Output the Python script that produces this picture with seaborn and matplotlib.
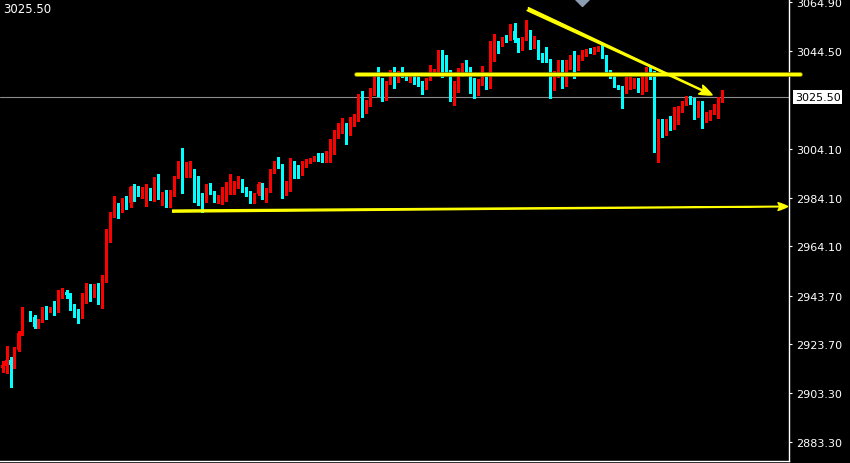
import numpy as np
import pandas as pd
import seaborn as sns
import matplotlib.pyplot as plt

nan = np.nan

# --- OHLC bars (one per bar, left to right) ---
opens = [
    2913.8, 2914.6, 2917.1, 2915.0, 2921.2, 2928.2, nan, 2936.1, 2934.8, 2930.7,
    2933.2, 2938.1, 2937.3, 2938.5, 2937.3, 2943.5, 2945.2, 2944.3, 2939.8, 2936.9,
    2934.8, 2941.0, 2947.6, 2943.5, 2946.0, 2941.9, 2949.7, 2969.5, 2977.3, 2979.8,
    2978.5, 2982.7, 2981.9, 2988.4, 2986.8, 2985.6, 2986.0, 2987.6, 2983.1, 2992.6,
    2984.7, 2986.0, 2984.7, 2986.4, 2992.6, 2998.3, 2992.6, 2992.6, 2993.4, 2985.1,
    2985.1, 2983.9, 2989.3, 2986.4, 2982.7, 2983.1, 2983.1, 2988.4, 2989.3, 2990.1,
    2990.5, 2987.6, 2986.4, 2981.9, 2985.6, 2989.3, 2984.7, 2987.6, 2995.5, 2998.7,
    2997.1, 2986.4, 2987.2, 2998.3, 2996.7, 2993.8, 2997.1, 2998.7, 2999.6, 3001.2,
    3000.0, 2999.2, 3001.2, 3005.3, 3010.3, 3010.7, 3014.0, 3011.1, 3014.8, 3015.7,
    3026.4, 3019.4, 3023.5, 3026.4, 3033.8, 3033.0, 3027.2, 3031.3, 3035.9, 3031.7,
    3035.0, 3034.6, 3033.4, 3034.2, 3031.7, 3031.3, 3028.9, 3033.0, 3035.4, 3035.4,
    3044.1, 3042.0, 3035.4, 3024.3, 3030.1, 3034.2, 3038.7, 3036.7, 3033.0, 3026.8,
    3030.9, 3033.0, 3029.7, 3046.6, 3047.8, 3047.0, 3049.9, 3049.5, 3052.8, 3049.5,
    3044.9, 3049.5, 3051.9, 3046.2, 3048.6, 3042.0, 3041.6, 3041.2, 3033.4, 3034.2,
    3040.4, 3032.2, 3039.6, 3040.4, 3037.5, 3041.2, 3042.9, 3044.9, 3044.1, 3044.9,
    3046.2, 3042.4, 3035.4, 3034.2, 3030.1, 3029.7, 3027.6, 3029.3, 3031.3, 3032.6,
    3028.9, 3030.1, 3034.2, 3033.8, 3005.8, 3015.2, 3010.3, 3014.8, 3012.8, 3016.9,
    3019.4, 3022.7, 3025.1, 3024.3, 3017.7, 3020.6, 3016.1, 3016.5, 3019.0, 3021.4,
    3023.9,
]
highs = [
    2916.7, 2922.9, 2918.4, 2922.4, 2929.1, 2939.0, nan, 2937.3, 2935.7, 2934.0,
    2939.0, 2939.4, 2939.0, 2941.5, 2946.0, 2946.8, 2946.0, 2944.7, 2940.2, 2938.1,
    2944.7, 2948.9, 2948.5, 2948.5, 2948.9, 2952.1, 2971.1, 2978.1, 2984.7, 2981.9,
    2983.9, 2984.7, 2988.9, 2989.7, 2988.9, 2988.4, 2989.7, 2988.0, 2992.6, 2993.8,
    2986.4, 2987.2, 2987.2, 2993.0, 2999.2, 3004.5, 2998.7, 2999.2, 2995.9, 2993.0,
    2986.0, 2989.7, 2990.1, 2986.8, 2985.1, 2988.4, 2990.5, 2993.8, 2990.9, 2993.0,
    2991.7, 2988.4, 2986.8, 2986.0, 2990.5, 2990.1, 2988.0, 2995.9, 2999.2, 3000.8,
    2997.9, 2990.9, 3000.4, 2999.2, 2997.5, 2999.2, 3000.0, 3000.4, 3001.2, 3002.5,
    3002.5, 3003.3, 3008.2, 3011.9, 3014.8, 3016.9, 3014.8, 3017.3, 3018.6, 3026.8,
    3028.0, 3024.3, 3029.3, 3034.2, 3037.9, 3033.4, 3032.2, 3036.7, 3037.9, 3036.3,
    3037.9, 3035.4, 3035.0, 3034.6, 3033.8, 3032.2, 3033.4, 3038.7, 3037.1, 3044.9,
    3044.9, 3042.9, 3036.7, 3032.2, 3037.5, 3039.6, 3040.8, 3037.9, 3033.4, 3033.0,
    3038.3, 3033.8, 3048.6, 3051.5, 3048.6, 3050.3, 3051.1, 3055.6, 3056.1, 3049.9,
    3050.3, 3057.3, 3053.2, 3050.7, 3049.0, 3043.7, 3046.2, 3041.2, 3036.3, 3040.8,
    3040.8, 3040.8, 3042.9, 3044.5, 3042.9, 3044.9, 3045.3, 3045.8, 3046.2, 3046.6,
    3047.0, 3042.9, 3036.7, 3034.6, 3030.5, 3030.1, 3033.8, 3033.8, 3033.4, 3033.4,
    3035.0, 3037.9, 3037.9, 3036.3, 3016.5, 3016.5, 3016.5, 3017.7, 3021.4, 3021.8,
    3023.9, 3026.0, 3026.0, 3025.1, 3023.9, 3023.9, 3019.4, 3020.2, 3022.7, 3025.5,
    3028.5,
]
lows = [
    2912.2, 2911.8, 2906.0, 2913.8, 2920.8, 2927.4, nan, 2933.2, 2930.3, 2930.3,
    2932.8, 2934.0, 2936.9, 2935.7, 2936.9, 2942.7, 2942.7, 2937.7, 2934.8, 2932.4,
    2934.4, 2940.6, 2941.5, 2943.1, 2940.2, 2938.5, 2949.3, 2965.8, 2976.1, 2975.7,
    2978.1, 2979.4, 2980.2, 2982.7, 2984.7, 2983.9, 2980.6, 2983.1, 2982.7, 2983.5,
    2981.0, 2980.2, 2980.2, 2984.7, 2992.2, 2986.0, 2992.6, 2992.6, 2982.3, 2981.0,
    2978.1, 2982.3, 2985.6, 2982.3, 2981.9, 2981.4, 2982.7, 2985.6, 2985.6, 2988.0,
    2986.4, 2984.7, 2981.9, 2981.9, 2985.1, 2983.5, 2982.3, 2986.4, 2994.2, 2996.3,
    2983.9, 2985.1, 2986.8, 2992.2, 2992.2, 2993.4, 2996.7, 2998.3, 2999.2, 2999.2,
    2998.7, 2998.7, 2998.7, 3002.0, 3008.6, 3010.7, 3006.2, 3009.9, 3013.6, 3015.7,
    3017.3, 3019.0, 3021.8, 3026.4, 3026.0, 3023.9, 3024.3, 3030.9, 3029.3, 3031.7,
    3033.8, 3032.6, 3031.7, 3030.9, 3030.1, 3026.8, 3028.9, 3032.6, 3035.0, 3035.4,
    3033.8, 3035.4, 3023.9, 3022.3, 3027.6, 3034.2, 3035.9, 3027.2, 3025.1, 3026.4,
    3030.5, 3028.9, 3029.3, 3040.4, 3043.7, 3046.6, 3048.2, 3049.0, 3048.2, 3044.1,
    3044.9, 3049.0, 3045.3, 3045.8, 3041.2, 3040.0, 3040.0, 3025.1, 3028.5, 3033.8,
    3029.3, 3030.1, 3037.1, 3033.4, 3036.7, 3040.8, 3042.4, 3043.7, 3043.3, 3044.5,
    3041.6, 3035.0, 3033.4, 3029.7, 3028.9, 3021.0, 3027.2, 3028.9, 3029.3, 3027.6,
    3026.8, 3028.0, 3033.0, 3002.9, 2998.7, 3009.1, 3009.9, 3011.9, 3012.4, 3014.4,
    3019.4, 3022.3, 3022.7, 3016.5, 3017.3, 3012.8, 3015.2, 3016.1, 3018.6, 3016.9,
    3023.5,
]
closes = [
    2915.0, 2917.1, 2915.0, 2921.6, 2928.2, 2936.1, nan, 2934.4, 2930.7, 2933.2,
    2938.1, 2937.3, 2938.5, 2937.3, 2943.9, 2945.2, 2943.9, 2939.4, 2936.5, 2934.8,
    2941.5, 2947.6, 2943.5, 2946.0, 2941.9, 2950.1, 2969.9, 2977.7, 2979.8, 2978.5,
    2982.7, 2981.9, 2988.4, 2986.4, 2985.6, 2986.4, 2987.6, 2983.5, 2992.2, 2984.7,
    2986.0, 2984.7, 2986.4, 2992.6, 2998.3, 2992.6, 2993.4, 2993.4, 2985.1, 2984.7,
    2983.9, 2989.3, 2986.0, 2982.7, 2983.5, 2984.3, 2988.4, 2989.7, 2990.5, 2990.5,
    2987.2, 2986.0, 2981.9, 2985.6, 2989.7, 2984.7, 2988.0, 2995.5, 2998.7, 2996.7,
    2986.4, 2988.0, 2998.3, 2996.3, 2993.8, 2997.5, 2999.2, 3000.0, 3000.8, 2999.6,
    2999.2, 3001.2, 3005.3, 3010.7, 3011.1, 3014.0, 3011.1, 3015.7, 3016.1, 3026.4,
    3019.4, 3023.9, 3026.8, 3033.8, 3032.6, 3027.2, 3031.3, 3035.9, 3031.7, 3035.9,
    3033.8, 3033.4, 3034.6, 3030.9, 3030.9, 3028.9, 3033.0, 3035.9, 3036.3, 3044.1,
    3041.6, 3035.4, 3024.3, 3030.1, 3034.6, 3038.7, 3036.3, 3032.6, 3026.8, 3031.3,
    3033.0, 3029.7, 3046.6, 3047.8, 3046.6, 3049.9, 3049.5, 3052.8, 3049.0, 3044.9,
    3049.9, 3051.9, 3046.2, 3049.0, 3041.6, 3041.2, 3040.4, 3033.8, 3034.6, 3040.4,
    3032.2, 3040.4, 3040.4, 3037.5, 3041.6, 3043.3, 3044.9, 3044.1, 3045.3, 3046.2,
    3042.0, 3035.4, 3033.8, 3030.1, 3029.3, 3027.6, 3029.7, 3031.7, 3032.6, 3028.9,
    3030.5, 3035.0, 3033.4, 3005.8, 3015.2, 3009.9, 3015.2, 3012.4, 3017.3, 3019.8,
    3023.5, 3025.1, 3023.5, 3017.7, 3020.6, 3015.7, 3016.9, 3019.4, 3021.8, 3024.7,
    3025.5,
]

price_ticks = [3064.90, 3044.50, 3004.10, 2984.10, 2964.10, 2943.70, 2923.70, 2903.30, 2883.30]
last_price = 3025.50
time_ticks = [13, 37, 61, 85, 109, 133, 157, 181]

# hand-drawn lines on the chart: (bar index, price)
support_line = [(42.5, 2978.5), (196.3, 2980.4)]
resistance_line = [(88.3, 3035.2), (199.5, 3035.2)]
falling_line = [(131.3, 3061.8), (177.4, 3026.4)]
marker_pos = (145, 3065.95)

df = pd.DataFrame({"open": opens, "high": highs, "low": lows, "close": closes})
df["bar"] = np.arange(len(df))
df["up"] = df["close"] >= df["open"]
df["color"] = np.where(df["up"], "#FF0000", "#00FFFF")
df["body_low"] = df[["open", "close"]].min(axis=1)
df["body_h"] = (df["close"] - df["open"]).abs().clip(lower=0.45)

# --- Styling ---
sns.set_theme(style="dark", rc={
    "axes.facecolor": "black",
    "figure.facecolor": "black",
    "axes.grid": False,
    "axes.edgecolor": "white",
    "xtick.color": "white",
    "ytick.color": "white",
    "text.color": "white",
})
plt.rcParams["font.family"] = ["DejaVu Sans"]

fig = plt.figure(figsize=(8.5, 4.64), dpi=100)
ax = fig.add_axes([0, 2 / 464, 789 / 850, 462 / 464])

# --- Candles ---
d = df.dropna()
ax.vlines(d["bar"], d["low"], d["high"], colors=d["color"], linewidth=0.75,
          antialiased=False)
ax.bar(d["bar"], d["body_h"], bottom=d["body_low"], width=0.76,
       color=d["color"], linewidth=0, antialiased=False)

# current price line
ax.axhline(last_price, color="#8c8c8c", linewidth=0.8, zorder=1)

# yellow drawings
rx, ry = zip(*resistance_line)
ax.plot(rx, ry, color="#8a8a00", linewidth=3.4, clip_on=False, zorder=4)
ax.plot(rx, ry, color="#FFFF00", linewidth=2.2, clip_on=False, zorder=5)

ax.annotate("", xy=support_line[1], xytext=support_line[0],
            arrowprops=dict(arrowstyle="fancy,head_length=0.7,head_width=0.55,tail_width=0.15",
                            color="#FFFF00", mutation_scale=10, shrinkA=0, shrinkB=0),
            zorder=5)
ax.annotate("", xy=falling_line[1], xytext=falling_line[0],
            arrowprops=dict(arrowstyle="fancy,head_length=0.65,head_width=0.5,tail_width=0.17",
                            color="#FFFF00", mutation_scale=14, shrinkA=0, shrinkB=0),
            zorder=5)

ax.plot(*marker_pos, marker="D", markersize=7, color="#8c9cb0", linestyle="none")

# --- Axes ---
ax.set_xlim(-0.625, 196.625)
ax.set_ylim(2875.47, 3065.95)
ax.yaxis.tick_right()
ax.set_yticks(price_ticks)
ax.set_yticklabels([f"{v:.2f}" for v in price_ticks])
ax.set_xticks(time_ticks)
ax.set_xticklabels([])
ax.tick_params(axis="y", direction="out", length=2.5, width=0.8, pad=2.5,
               labelsize=8, colors="white")
ax.tick_params(axis="x", direction="out", length=2, width=0.8, colors="white")
for side in ["left", "top"]:
    ax.spines[side].set_visible(False)
for side in ["right", "bottom"]:
    ax.spines[side].set_color("white")
    ax.spines[side].set_linewidth(1)

# price box on the axis
ax.text(1.0076, last_price, f"{last_price:.2f}", transform=ax.get_yaxis_transform(),
        ha="left", va="center", fontsize=8, color="black", clip_on=False,
        bbox=dict(facecolor="white", edgecolor="none", pad=1.2))

fig.text(3 / 850, 1 - 3 / 464, f"{last_price:.2f}", ha="left", va="top",
         fontsize=8.5, color="white")

fig.savefig("out.png", dpi=100, facecolor="black")
plt.close()
